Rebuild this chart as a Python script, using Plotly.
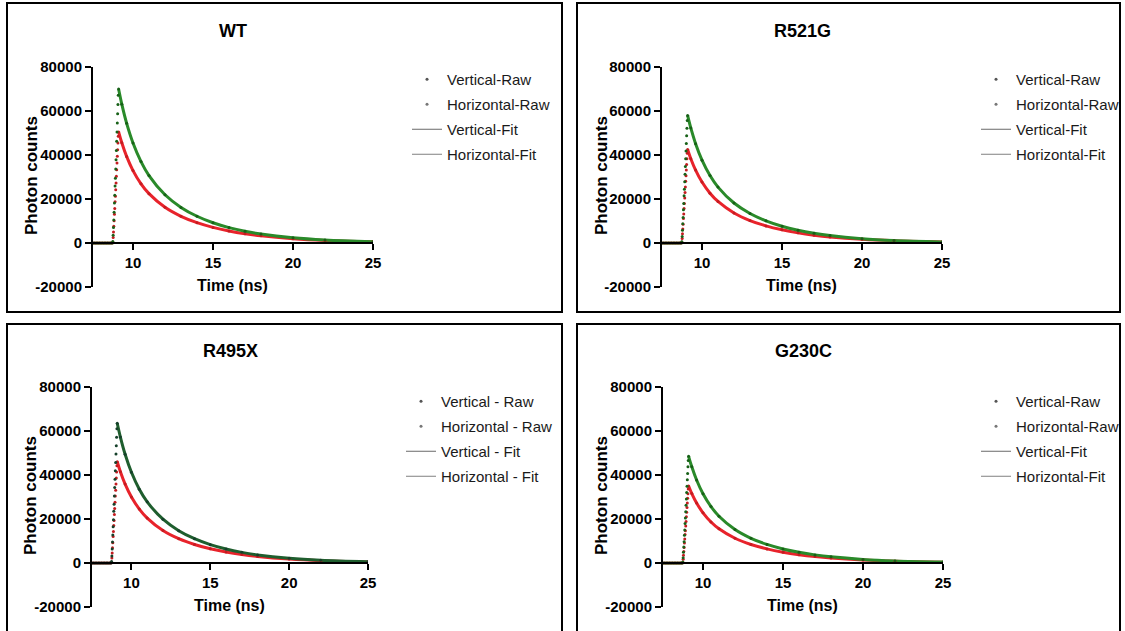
import plotly.graph_objects as go

W, H = 1125, 631

# ---------------- data ----------------
panel_titles = ["WT", "R521G", "R495X", "G230C"]
legend_labels = [
    ["Vertical-Raw", "Horizontal-Raw", "Vertical-Fit", "Horizontal-Fit"],
    ["Vertical-Raw", "Horizontal-Raw", "Vertical-Fit", "Horizontal-Fit"],
    ["Vertical - Raw", "Horizontal - Raw", "Vertical - Fit", "Horizontal - Fit"],
    ["Vertical-Raw", "Horizontal-Raw", "Vertical-Fit", "Horizontal-Fit"],
]
x_tickvals = [10, 15, 20, 25]
y_tickvals = [-20000, 0, 20000, 40000, 60000, 80000]
y_ticktext = ["-20000", "0", "20000", "40000", "60000", "80000"]
x_title = "Time (ns)"
y_title = "Photon counts"

t_base = [7.5, 7.6, 7.7, 7.8, 7.9, 8.0, 8.1, 8.2, 8.3, 8.4, 8.5, 8.6, 8.7]
base_counts = [0, 0, 0, 0, 0, 0, 0, 0, 0, 0, 0, 0, 0]
t_rise = [8.74, 8.76, 8.78, 8.80, 8.82, 8.84, 8.86, 8.88, 8.90,
          8.92, 8.94, 8.96, 8.98, 9.00, 9.02, 9.04, 9.06, 9.08]
t_decay = [9.1, 9.3, 9.6, 10.0, 10.5, 11.0, 12.0, 13.0, 14.0, 15.0,
           16.0, 17.0, 18.0, 20.0, 22.0, 25.0]

wt_v_rise = [700, 3500, 7000, 10500, 14000, 18200, 21700, 25900, 29400,
             33600, 37800, 42000, 46200, 50400, 54600, 58800, 63000, 67200]
wt_h_rise = [500, 2500, 5050, 7600, 10100, 13100, 15700, 18700, 21200,
             24200, 27300, 30300, 33300, 36400, 39400, 42400, 45500, 48500]
wt_v_decay = [70000, 63100, 54470, 45450, 37000, 30670, 21930, 16190, 12160,
              9200, 7000, 5330, 4060, 2370, 1380, 610]
wt_h_decay = [50500, 45550, 39370, 32920, 26910, 22430, 16230, 12140, 9250,
              7100, 5480, 4230, 3270, 1960, 1170, 540]

r521g_v_rise = [580, 2900, 5800, 8700, 11600, 15100, 18000, 21500, 24400,
                27800, 31300, 34800, 38300, 41800, 45200, 48700, 52200, 55700]
r521g_h_rise = [430, 2100, 4250, 6400, 8500, 11100, 13200, 15700, 17900,
                20400, 23000, 25500, 28100, 30600, 33200, 35700, 38300, 40800]
r521g_v_decay = [58000, 52290, 45130, 37660, 30660, 25410, 18170, 13420, 10080,
                 7620, 5800, 4420, 3360, 1960, 1140, 505]
r521g_h_decay = [42500, 38330, 33130, 27700, 22650, 18880, 13660, 10220, 7780,
                 5980, 4610, 3560, 2750, 1650, 985, 455]

r495x_v_rise = [640, 3200, 6350, 9500, 12700, 16500, 19700, 23500, 26700,
                30500, 34300, 38100, 41900, 45700, 49500, 53300, 57200, 61000]
r495x_h_rise = [460, 2300, 4600, 6900, 9200, 12000, 14300, 17000, 19300,
                22100, 24800, 27600, 30400, 33100, 35900, 38600, 41400, 44200]
r495x_v_decay = [63500, 57240, 49410, 41230, 33560, 27820, 19890, 14690, 11030,
                 8350, 6350, 4830, 3680, 2150, 1250, 555]
r495x_h_decay = [46000, 41490, 35860, 29990, 24510, 20430, 14780, 11060, 8430,
                 6470, 4990, 3850, 2980, 1790, 1065, 490]

g230c_v_rise = [490, 2400, 4850, 7300, 9700, 12600, 15000, 17900, 20400,
                23300, 26200, 29100, 32000, 34900, 37800, 40700, 43700, 46600]
g230c_h_rise = [350, 1750, 3500, 5250, 7000, 9100, 10900, 13000, 14700,
                16800, 18900, 21000, 23100, 25200, 27300, 29400, 31500, 33600]
g230c_v_decay = [48500, 43720, 37740, 31490, 25640, 21250, 15200, 11220, 8430,
                 6370, 4850, 3690, 2810, 1640, 955, 425]
g230c_h_decay = [35000, 31570, 27290, 22820, 18650, 15550, 11250, 8410, 6410,
                 4920, 3800, 2930, 2270, 1360, 810, 375]

v_rise = [wt_v_rise, r521g_v_rise, r495x_v_rise, g230c_v_rise]
h_rise = [wt_h_rise, r521g_h_rise, r495x_h_rise, g230c_h_rise]
v_decay = [wt_v_decay, r521g_v_decay, r495x_v_decay, g230c_v_decay]
h_decay = [wt_h_decay, r521g_h_decay, r495x_h_decay, g230c_h_decay]

# ---------------- layout helpers ----------------
def PX(px):
    return px / W

def PY(py):
    return 1 - py / H

# plot areas in pixels: (x_left, x_right, y_top, y_bottom, y_zero)
areas = [
    (93, 373, 67, 287, 243),
    (662, 942, 67, 287, 243),
    (92, 368, 387, 607, 563),
    (663, 943, 387, 607, 563),
]
boxes = [(7, 3, 562, 312), (577, 3, 1120, 312), (7, 324, 562, 660), (577, 324, 1120, 660)]
# legend anchors: (x px, anchor, y top px)
legend_pos = [(407, "left", 63), (1124, "right", 63), (401, "left", 385), (1124, "right", 385)]
ylab_x = [31, 601, 30, 601]

fit_v_colors = ["#2a8a2a", "#2a8a2a", "#1f5e2e", "#2a8a2a"]
raw_v_colors = ["#176017", "#176017", "#15402a", "#176017"]
fit_h_color = "#e8232b"
raw_h_color = "#c41c20"

FONT = "Arial, Liberation Sans, sans-serif"

fig = go.Figure()
layout = dict(
    width=W, height=H, margin=dict(l=0, r=0, t=0, b=0, autoexpand=False),
    paper_bgcolor="white", plot_bgcolor="white", showlegend=True,
    font=dict(family=FONT, color="black"),
)
annotations = []
shapes = []

for i in range(4):
    xl, xr, yt, yb, yz = areas[i]
    n = "" if i == 0 else str(i + 1)
    xa, ya = "x" + n, "y" + n
    leg = "legend" if i == 0 else "legend" + str(i + 1)

    layout["xaxis" + n] = dict(
        domain=[PX(xl), PX(xr)], range=[7.5, 25], anchor="free",
        position=PY(yz), showline=True, linecolor="black", linewidth=2,
        ticks="outside", ticklen=6, tickwidth=2, tickcolor="black",
        tickvals=x_tickvals, showgrid=False, zeroline=False, automargin=False,
        tickfont=dict(family=FONT, size=15, color="black", weight="bold"),
        fixedrange=True,
    )
    layout["yaxis" + n] = dict(
        domain=[PY(yb), PY(yt)], range=[-20000, 80000], anchor=xa,
        showline=True, linecolor="black", linewidth=2,
        ticks="outside", ticklen=6, tickwidth=2, tickcolor="black",
        tickvals=y_tickvals, ticktext=y_ticktext, showgrid=False, zeroline=False,
        automargin=False,
        tickfont=dict(family=FONT, size=15, color="black", weight="bold"),
        fixedrange=True,
    )

    tr = t_base + t_rise + t_decay
    # fits
    fig.add_trace(go.Scatter(x=t_decay, y=h_decay[i], mode="lines", xaxis=xa, yaxis=ya,
                             line=dict(color=fit_h_color, width=3, shape="spline"),
                             showlegend=False, hoverinfo="skip"))
    fig.add_trace(go.Scatter(x=t_decay, y=v_decay[i], mode="lines", xaxis=xa, yaxis=ya,
                             line=dict(color=fit_v_colors[i], width=3, shape="spline"),
                             showlegend=False, hoverinfo="skip"))
    # raw
    fig.add_trace(go.Scatter(x=tr, y=base_counts + h_rise[i] + h_decay[i], mode="markers",
                             xaxis=xa, yaxis=ya,
                             marker=dict(color=raw_h_color, size=3),
                             showlegend=False, hoverinfo="skip"))
    fig.add_trace(go.Scatter(x=tr, y=base_counts + v_rise[i] + v_decay[i], mode="markers",
                             xaxis=xa, yaxis=ya,
                             marker=dict(color=raw_v_colors[i], size=3),
                             showlegend=False, hoverinfo="skip"))
    # legend entries
    labs = legend_labels[i]
    fig.add_trace(go.Scatter(x=[None], y=[None], mode="markers", name=labs[0], legend=leg,
                             legendgroup=f"g{i}a", xaxis=xa, yaxis=ya,
                             marker=dict(color="#555555", size=3)))
    fig.add_trace(go.Scatter(x=[None], y=[None], mode="markers", name=labs[1], legend=leg,
                             legendgroup=f"g{i}b", xaxis=xa, yaxis=ya,
                             marker=dict(color="#777777", size=3)))
    fig.add_trace(go.Scatter(x=[None], y=[None], mode="lines", name=labs[2], legend=leg,
                             legendgroup=f"g{i}c", xaxis=xa, yaxis=ya,
                             line=dict(color="#6a6a6a", width=1)))
    fig.add_trace(go.Scatter(x=[None], y=[None], mode="lines", name=labs[3], legend=leg,
                             legendgroup=f"g{i}d", xaxis=xa, yaxis=ya,
                             line=dict(color="#808080", width=1)))

    lx, lanchor, ly = legend_pos[i]
    layout[leg] = dict(x=PX(lx), y=PY(ly), xanchor=lanchor, yanchor="top",
                       bgcolor="rgba(0,0,0,0)", borderwidth=0,
                       font=dict(family=FONT, size=15, color="#1a1a1a"),
                       itemwidth=30, traceorder="grouped", tracegroupgap=2.5)

    cx = (xl + xr) / 2
    annotations.append(dict(text=panel_titles[i], x=PX(cx), y=PY(yt - 36), xref="paper",
                            yref="paper", showarrow=False, xanchor="center", yanchor="middle",
                            font=dict(family=FONT, size=18, color="black", weight="bold")))
    annotations.append(dict(text=x_title, x=PX(cx - 1), y=PY(yb - 2), xref="paper",
                            yref="paper", showarrow=False, xanchor="center", yanchor="middle",
                            font=dict(family=FONT, size=16, color="black", weight="bold")))
    annotations.append(dict(text=y_title, x=PX(ylab_x[i]), y=PY((yt + yb) / 2 - 1),
                            xref="paper", yref="paper", showarrow=False, textangle=-90,
                            xanchor="center", yanchor="middle",
                            font=dict(family=FONT, size=17, color="black", weight="bold")))
    bx0, by0, bx1, by1 = boxes[i]
    shapes.append(dict(type="rect", xref="paper", yref="paper",
                       x0=PX(bx0), x1=PX(bx1), y0=PY(by1), y1=PY(by0),
                       line=dict(color="black", width=2), fillcolor="rgba(0,0,0,0)",
                       layer="below"))

layout["annotations"] = annotations
layout["shapes"] = shapes
fig.update_layout(**layout)
fig.write_html("out.html", config={"displayModeBar": False})
